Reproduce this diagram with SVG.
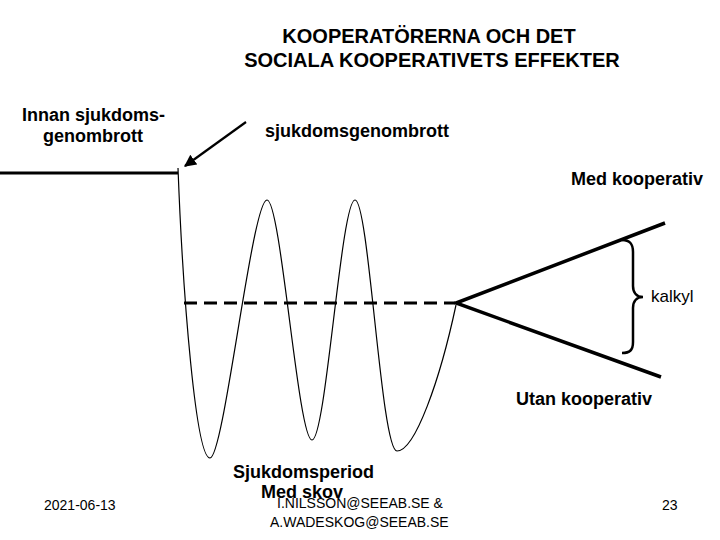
<svg xmlns="http://www.w3.org/2000/svg" width="720" height="540" viewBox="0 0 720 540">
<defs>
<style>
.b{font-family:"Liberation Sans",Arial,sans-serif;font-weight:bold;font-size:18px;fill:#000}
.t{font-family:"Liberation Sans",Arial,sans-serif;font-weight:bold;font-size:20px;fill:#000}
.n{font-family:"Liberation Sans",Arial,sans-serif;font-size:14px;fill:#000}
.k{font-family:"Liberation Sans",Arial,sans-serif;font-size:17px;fill:#000}
.ln{fill:none;stroke:#000}
</style>
<marker id="ah" viewBox="0 0 10 10" refX="9" refY="5" markerWidth="5.5" markerHeight="5.5" orient="auto" markerUnits="strokeWidth">
<path d="M0,0 L10,5 L0,10 z" fill="#000"/>
</marker>
</defs>
<rect width="720" height="540" fill="#fff"/>
<g id="title">
<text class="t" x="429" y="43" text-anchor="middle">KOOPERATÖRERNA OCH DET</text>
<text class="t" x="432" y="67" text-anchor="middle">SOCIALA KOOPERATIVETS EFFEKTER</text>
</g>
<g id="before">
<text class="b" x="22" y="121">Innan sjukdoms-</text>
<text class="b" x="43" y="142">genombrott</text>
<path class="ln" d="M0,173 L178,173" stroke-width="3"/>
</g>
<g id="breakthrough">
<text class="b" x="265" y="137">sjukdomsgenombrott</text>
</g>
<g id="wave">
<path class="ln" stroke-width="1.2" d="M178,168 C183,300 196,458 210,458 C224,458 252,200 267,200 C281,200 298,440 312,440 C326,440 341,200 355,200 C369,200 381,451 397,451 C415,451 440,380 456,305"/>
</g>
<g id="baseline">
<path class="ln" d="M184,303 L455,303" stroke-width="3" stroke-dasharray="13 7"/>
</g>
<g id="fork">
<path class="ln" d="M665,223 L456,303 L661,377" stroke-width="3.5" stroke-linejoin="miter"/>
</g>
<g id="kalkyl">
<path class="ln" stroke-width="2.5" d="M622,240 C630,240 633,244 633,252 L633,286 C633,293 637,297 643,297 C637,297 633,301 633,308 L633,342 C633,350 630,353 622,353"/>
<text class="k" x="651" y="302">kalkyl</text>
</g>
<g id="med">
<text class="b" x="571" y="185">Med kooperativ</text>
</g>
<g id="utan">
<text class="b" x="516" y="405">Utan kooperativ</text>
</g>
<g id="period">
<text class="b" x="233" y="478">Sjukdomsperiod</text>
<text class="b" x="261" y="498">Med skov</text>
</g>
<g id="connectors">
<path class="ln" d="M246,122 L185,166" stroke-width="2.2" marker-end="url(#ah)"/>
</g>
<g id="footer">
<text class="n" x="44" y="510">2021-06-13</text>
<text class="n" x="277" y="508">I.NILSSON@SEEAB.SE &amp;</text>
<text class="n" x="270" y="527">A.WADESKOG@SEEAB.SE</text>
<text class="n" x="662" y="510">23</text>
</g>
</svg>
